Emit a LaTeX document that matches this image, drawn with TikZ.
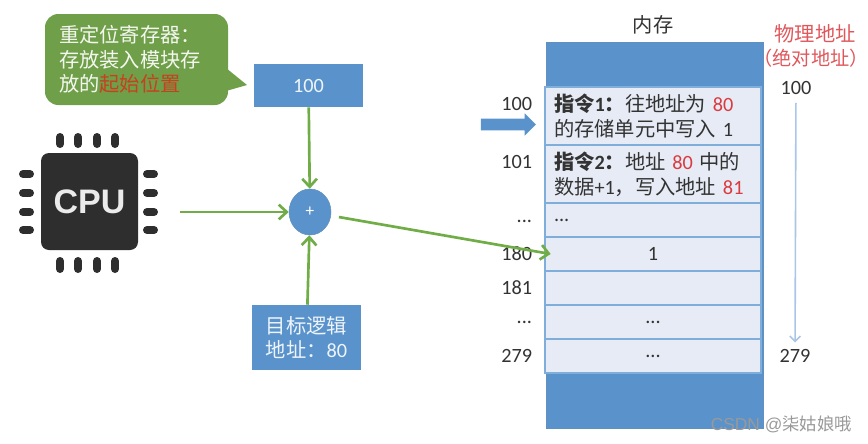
\documentclass[tikz,border=0pt]{standalone}
\usepackage{fontspec}
\setmainfont{Carlito}
\newfontfamily\cjk{Noto Sans CJK SC}
\newfontfamily\marksans{Liberation Sans}
\newcommand{\zh}[1]{{\cjk #1}}
\usetikzlibrary{arrows.meta,shapes.geometric,shapes.arrows}
\definecolor{boxblue}{HTML}{5A93CB}
\definecolor{cellfill}{HTML}{E6EBF5}
\definecolor{celledge}{HTML}{7FAEDB}
\definecolor{flowgreen}{HTML}{70AD47}
\definecolor{tipgreen}{HTML}{6F9F48}
\definecolor{startred}{HTML}{C8401F}
\definecolor{addrred}{HTML}{DB3A3E}
\definecolor{physline}{HTML}{A9C6E6}
\tikzset{
  base font/.style={font=\fontsize{15.2}{18.6}\selectfont},
  bluebox/.style={base font, fill=boxblue, text=white!90!boxblue, align=center, inner sep=0pt},
  cell/.style={base font, draw=celledge, line width=1.5pt, fill=cellfill, text=black!80, minimum width=162pt, align=center, inner sep=0pt},
  cell text/.style={cell, text width=148.5pt, inner xsep=6.75pt, align=left},
  addr/.style={base font, text=black!80, inner sep=2pt},
  phys text/.style={base font, text=addrred!85!white, inner sep=0pt},
  flow/.style={draw=flowgreen, line width=2pt, -{Straight Barb[length=6pt,width=11pt]}},
  pin/.style={draw=black!82, line width=6pt, line cap=round},
}
\begin{document}
\begin{tikzpicture}[x=0.75pt,y=-0.75pt]
\useasboundingbox (0,0) rectangle (868,443);
% callout
\fill[tipgreen] (226,68) -- (247,85) -- (226,91) -- cycle;
\node[base font, fill=tipgreen, rounded corners=10pt, text=white!92!tipgreen, text width=116.25pt, inner xsep=10.5pt, inner ysep=0pt, minimum height=68.25pt, align=left] (tip) at (136.5,59.5) {\zh{重定位寄存器：}\\\zh{存放装入模块存}\\\zh{放的}\textcolor{startred}{\zh{起始位置}}};
% registers
\node[bluebox, minimum width=81.75pt, minimum height=32.25pt] (base) at (308.5,85.5) {100};
\node[bluebox, minimum width=81.75pt, minimum height=48.75pt] (logic) at (306.5,337.5) {\zh{目标逻辑}\\\zh{地址：}80};
\node[ellipse, fill=boxblue, draw=boxblue!80!gray, text=white, inner sep=0pt, minimum width=31.5pt, minimum height=34.5pt, font=\fontsize{13}{14}\selectfont] (adder) at (310,212) {+};
% cpu
\foreach \x in {60,78,97,115} {
  \draw[pin] (\x,137) -- (\x,144);
  \draw[pin] (\x,261) -- (\x,269);
}
\foreach \y in {174,193,212,230} {
  \draw[pin] (23,\y) -- (30,\y);
  \draw[pin] (147,\y) -- (154,\y);
}
\node[fill=black!82, rounded corners=6pt, text=white!92!black, minimum width=72.75pt, minimum height=72.75pt, inner sep=0pt, font=\marksans\bfseries\fontsize{25.5}{30}\selectfont] (cpu) at (89.5,201.5) {CPU};
\coordinate (cpuout) at (180,212);
% memory
\node[base font, text=black!80, inner sep=0pt] (memlabel) at (653,25) {\zh{内存}};
\node[fill=boxblue, draw=boxblue!85!gray, minimum width=162.75pt, minimum height=289.5pt, inner sep=0pt] (memory) at (654.5,235) {};
\node[cell text, minimum height=43.5pt] (cell100) at (653,116) {\textbf{\zh{指令}1\zh{：}}\zh{往地址为} \textcolor{addrred}{80}\\\zh{的存储单元中写入} 1};
\node[cell text, minimum height=43.5pt] (cell101) at (653,174) {\textbf{\zh{指令}2\zh{：}}\zh{地址} \textcolor{addrred}{80} \zh{中的}\\\zh{数据}+1\zh{，写入地址} \textcolor{addrred}{81}};
\node[cell text, minimum height=25.5pt] (celldots) at (653,220) {...};
\node[cell, minimum height=25.5pt] (cell180) at (653,254) {1};
\node[cell, minimum height=25.5pt] (cell181) at (653,288) {};
\node[cell, minimum height=25.5pt] (cellmore) at (653,322) {...};
\node[cell, minimum height=25.5pt] (cell279) at (653,356) {...};
% addresses on the left
\node[addr, anchor=east] (addr100) at (535,104) {100};
\node[addr, anchor=east] (addr101) at (535,162) {101};
\node[addr, anchor=east] (addrdots) at (535,221) {...};
\node[addr, anchor=east] (addr180) at (535,254) {180};
\node[addr, anchor=east] (addr181) at (535,288) {181};
\node[addr, anchor=east] (addrmore) at (535,322) {...};
\node[addr, anchor=east] (addr279) at (535,356) {279};
\node[single arrow, fill=boxblue, minimum width=16.5pt, minimum height=41.25pt, single arrow head extend=4.1pt, single arrow head indent=0pt, inner sep=0pt] (pc) at (505.5,124.5) {\rule{0pt}{8.25pt}};
% physical address
\node[phys text] (physname) at (815,34) {\zh{物理地址}};
\node[phys text, font=\fontsize{14.4}{18.6}\selectfont] (physnote) at (811,58) {\zh{（绝对地址）}};
\node[addr] (phystop) at (796,88) {100};
\node[addr] (physend) at (795,356) {279};
\draw[draw=physline, line width=1.2pt, shorten <=4pt, shorten >=3pt, -{Straight Barb[length=4pt,width=8pt]}] (phystop) -- (physend);
% connectors
\draw[flow] (base) -- (adder);
\draw[flow] (logic) -- (adder);
\draw[flow] (cpuout) -- (adder);
\draw[flow, shorten <=6pt] (adder) -- ([xshift=5pt]cell180.west);
% watermark
\node[anchor=east, inner sep=0pt, text=gray!80, font=\marksans\fontsize{13}{14}\selectfont] (mark) at (852,424) {CSDN @\zh{柒姑娘哦}};
\end{tikzpicture}
\end{document}
